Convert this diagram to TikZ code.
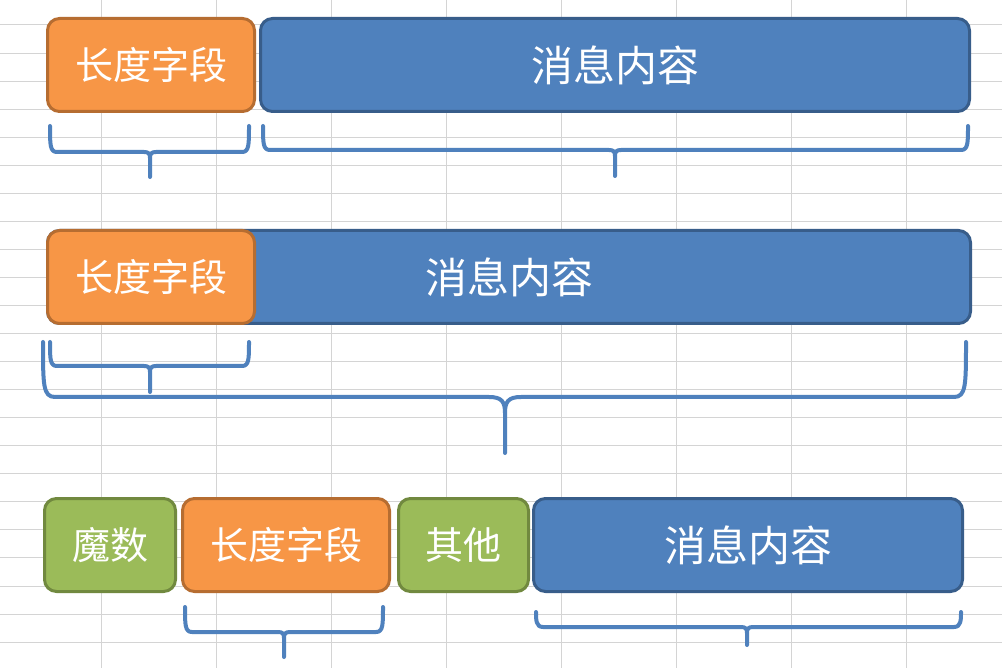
\documentclass[tikz,border=0pt]{standalone}
\usepackage{fontspec}
\newfontfamily\cjkfont{Noto Sans CJK SC}
\definecolor{gridgray}{HTML}{D4D4D4}
\definecolor{orangefill}{HTML}{F79646}
\definecolor{orangeline}{HTML}{B66D31}
\definecolor{bluefill}{HTML}{4F81BD}
\definecolor{blueline}{HTML}{385D8A}
\definecolor{greenfill}{HTML}{9BBB59}
\definecolor{greenline}{HTML}{71893F}
\definecolor{bracecol}{HTML}{4F81BD}

% horizontal curly brace: x1, x2, top of the ends, level of the bar,
% x of the tip, y of the tip, end radius, tip half-width
\newcommand\drawbrace[8]{%
  \draw[bracestroke] (#1,#3) .. controls (#1,#4-#7) and (#1,#4) .. (#1+#7,#4)
    -- (#5-#8,#4) .. controls (#5-0.2*#8,#4) and (#5,#4+0.3*#8) .. (#5,#4+#8)
    -- (#5,#6) -- (#5,#4+#8)
    .. controls (#5,#4+0.3*#8) and (#5+0.2*#8,#4) .. (#5+#8,#4)
    -- (#2-#7,#4) .. controls (#2,#4) and (#2,#4-#7) .. (#2,#3);%
}

\begin{document}
\begin{tikzpicture}[x=1pt,y=-1pt,
  gridline/.style={draw=gridgray, line width=1pt},
  field/.style={rounded corners=12pt, line width=3pt, inner sep=0pt,
    minimum height=93pt, text=white,
    font=\cjkfont\fontsize{38}{38}\selectfont},
  bigtext/.style={font=\cjkfont\fontsize{42}{42}\selectfont},
  orangebox/.style={field, fill=orangefill, draw=orangeline},
  bluebox/.style={field, fill=bluefill, draw=blueline},
  greenbox/.style={field, fill=greenfill, draw=greenline},
  bracestroke/.style={draw=bracecol, line width=4pt, line join=round, line cap=round}]

\useasboundingbox (0,0) rectangle (1002,668);
\fill[white] (0,0) rectangle (1002,668);

% spreadsheet grid
\foreach \i in {0,...,7}
  \draw[gridline] (101+115*\i,0) -- (101+115*\i,668);
\foreach \j in {0,...,22}
  \draw[gridline] (0,25+28.05*\j) -- (1002,25+28.05*\j);

% row 1: length field + message body
\node[orangebox, minimum width=207pt] (len1) at (151,65) {长度字段};
\node[bluebox, bigtext, minimum width=709pt] (msg1) at (615,65) {消息内容};
\drawbrace{50}{249}{126}{152}{150}{177}{7}{6}
\drawbrace{263}{968}{126}{150}{615}{176}{7}{6}

% row 2: length field counted inside the message
\node[bluebox, bigtext, minimum width=923pt] (msg2) at (509,277) {消息内容};
\node[orangebox, minimum width=207pt] (len2) at (151,277) {长度字段};
\drawbrace{50}{249}{342}{366}{150}{392}{7}{6}
\drawbrace{43}{966}{342}{397}{505}{453}{12}{16}

% row 3: magic number, length field, other, message body
\node[greenbox, minimum width=131pt] (magic) at (110,545) {魔数};
\node[orangebox, minimum width=207pt] (len3) at (286,545) {长度字段};
\node[greenbox, minimum width=130pt] (other) at (463.5,545) {其他};
\node[bluebox, bigtext, minimum width=429pt] (msg3) at (748,545) {消息内容};
\drawbrace{185}{383}{607}{632}{284}{657}{7}{6}
\drawbrace{536}{961}{612}{627}{747}{645}{7}{6}
\end{tikzpicture}
\end{document}
